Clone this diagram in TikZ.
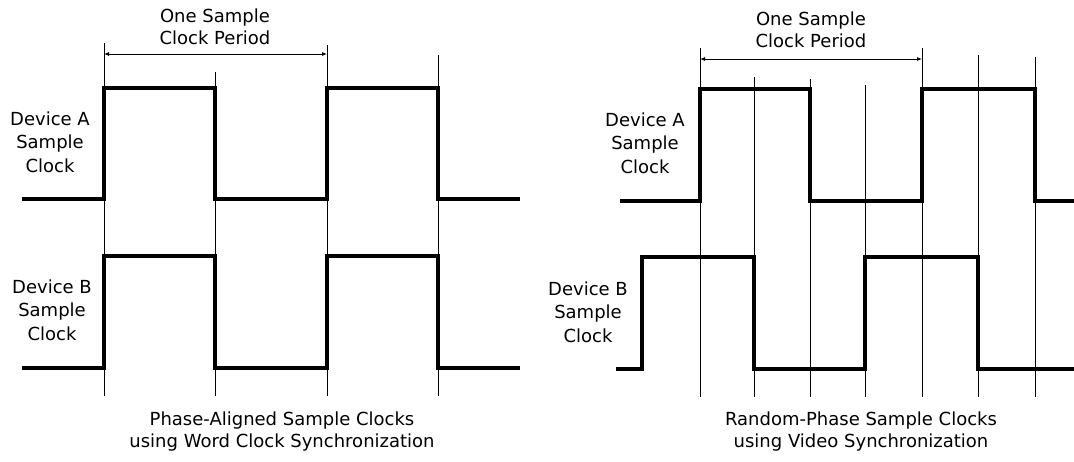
\documentclass[tikz,border=0pt]{standalone}
\usepackage{fontspec}
\setmainfont{DejaVu Sans}
\usetikzlibrary{arrows.meta}

\tikzset{
	clk/.style={line width=4pt},
	edgeline/.style={line width=0.9pt},
	period/.style={line width=0.8pt, {Latex[length=5pt,width=4pt]}-{Latex[length=5pt,width=4pt]}},
	lbl/.style={align=center, inner sep=0pt, font=\fontsize{18}{22}\selectfont},
	devlbl/.style={lbl, font=\fontsize{18}{23.5}\selectfont},
}

\begin{document}
\begin{tikzpicture}[x=1pt,y=-1pt]
	\useasboundingbox (0,0) rectangle (1074,461);

	% word clock: both clocks share the same edges
	\foreach \x/\top in {104/43, 215/72, 327/45, 438/55}{
		\draw[edgeline] (\x,\top) -- (\x,396);
	}
	\draw[clk] (22,199) -- (104,199) -- (104,88) -- (215,88) -- (215,199) -- (327,199) -- (327,88) -- (438,88) -- (438,199) -- (520,199);
	\draw[clk] (22,368) -- (104,368) -- (104,256) -- (215,256) -- (215,368) -- (327,368) -- (327,256) -- (438,256) -- (438,368) -- (520,368);

	\coordinate (pl1) at (104,54);
	\coordinate (pl2) at (327,54);
	\draw[period] (pl1) -- (pl2);

	\node[lbl] (periodL) at (215,27) {One Sample\\Clock Period};
	\node[devlbl] (devAL) at (50,142) {Device A\\Sample\\Clock};
	\node[devlbl] (devBL) at (52,310) {Device B\\Sample\\Clock};
	\node[lbl] (capL) at (282,432) {Phase-Aligned Sample Clocks\\using Word Clock Synchronization};

	% video sync: B sits at a random phase against A
	\foreach \x/\top in {700/48, 754/77, 810/79, 865/85, 922/48, 978/55, 1035/57}{
		\draw[edgeline] (\x,\top) -- (\x,397);
	}
	\draw[clk] (620,201) -- (700,201) -- (700,89) -- (810,89) -- (810,201) -- (922,201) -- (922,89) -- (1035,89) -- (1035,201) -- (1076,201);
	\draw[clk] (616,369) -- (642,369) -- (642,257) -- (754,257) -- (754,369) -- (865,369) -- (865,257) -- (978,257) -- (978,369) -- (1076,369);
%	\draw[clk] (616,369) -- (700,369) -- (700,257) -- (810,257) -- (810,369) -- (1076,369);

	\coordinate (pr1) at (700,59);
	\coordinate (pr2) at (922,59);
	\draw[period] (pr1) -- (pr2);

	\node[lbl] (periodR) at (811,30) {One Sample\\Clock Period};
	\node[devlbl] (devAR) at (645,143) {Device A\\Sample\\Clock};
	\node[devlbl] (devBR) at (588,312) {Device B\\Sample\\Clock};
	\node[lbl] (capR) at (861,432) {Random-Phase Sample Clocks\\using Video Synchronization};

\end{tikzpicture}
\end{document}
